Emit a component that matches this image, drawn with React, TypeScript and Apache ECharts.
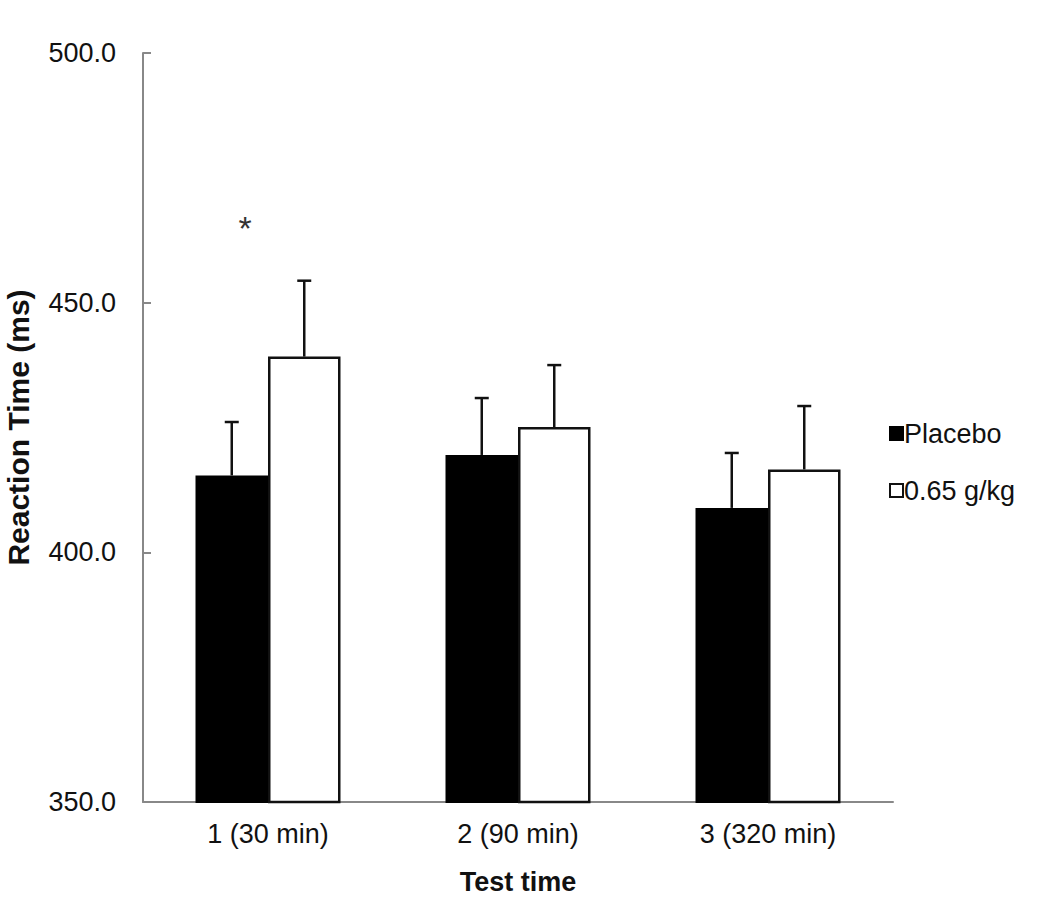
import React, { useEffect, useRef } from "react";
import * as echarts from "echarts";

const categories = ["1 (30 min)", "2 (90 min)", "3 (320 min)"];
const placeboMean = [415.4, 419.5, 408.9];
const placeboErr = [10.7, 11.4, 11.0];
const doseMean = [439.2, 425.1, 416.6];
const doseErr = [15.2, 12.4, 12.7];
const significance = ["*", "", ""];
const significanceLevel = [465.0, 0, 0];
const yTicks = { min: 350, max: 500, interval: 50 };

const FONT = "Liberation Sans, Arial, sans-serif";
const CAT_GAP = 0.42;

function errorSeries(name: string, means: number[], errs: number[], side: number) {
  return {
    type: "custom",
    name: name + " error",
    z: 5,
    silent: true,
    data: means.map((m, i) => [i, m, errs[i]]),
    encode: { x: 0, y: 1 },
    renderItem: (params: any, api: any) => {
      const idx = api.value(0);
      const mean = api.value(1);
      const err = api.value(2);
      const band = api.size([1, 0])[0];
      const barW = (band * (1 - CAT_GAP)) / 2;
      const base = api.coord([idx, mean]);
      const top = api.coord([idx, mean + err]);
      const x = base[0] + side * barW / 2;
      const cap = 7;
      const style = { stroke: "#111", lineWidth: 2.5 };
      return {
        type: "group",
        children: [
          { type: "line", shape: { x1: x, y1: base[1], x2: x, y2: top[1] }, style },
          { type: "line", shape: { x1: x - cap, y1: top[1], x2: x + cap, y2: top[1] }, style },
        ],
      };
    },
  };
}

export default function App() {
  const ref = useRef<HTMLDivElement>(null);
  useEffect(() => {
    if (!ref.current) return;
    const chart = echarts.init(ref.current, null, { renderer: "svg" });
    chart.setOption({
      animation: false,
      backgroundColor: "#ffffff",
      grid: { left: 143, right: 157, top: 53, bottom: 108, containLabel: false, outerBoundsMode: "none" },
      legend: {
        orient: "vertical",
        left: 884,
        top: 415,
        itemWidth: 13,
        itemHeight: 13,
        itemGap: 30,
        icon: "rect",
        data: ["Placebo", "0.65 g/kg"],
        textStyle: { fontFamily: FONT, fontSize: 27, color: "#111", padding: [0, 0, 0, -4] },
      },
      xAxis: {
        type: "category",
        data: categories,
        name: "Test time",
        nameLocation: "middle",
        nameGap: 66,
        nameTextStyle: { fontFamily: FONT, fontSize: 27, fontWeight: "bold", color: "#111" },
        axisLine: { lineStyle: { color: "#888", width: 2 } },
        axisTick: { show: false },
        axisLabel: { fontFamily: FONT, fontSize: 27, color: "#111", margin: 18 },
      },
      yAxis: {
        type: "value",
        min: yTicks.min,
        max: yTicks.max,
        interval: yTicks.interval,
        name: "Reaction Time (ms)",
        nameLocation: "middle",
        nameGap: 110,
        nameTextStyle: { fontFamily: FONT, fontSize: 30, fontWeight: "bold", color: "#111" },
        axisLine: { show: true, lineStyle: { color: "#888", width: 2 } },
        axisTick: { show: true, inside: true, length: 8, lineStyle: { color: "#888", width: 2 } },
        splitLine: { show: false },
        axisLabel: {
          fontFamily: FONT,
          fontSize: 27,
          color: "#111",
          margin: 27,
          formatter: (v: number) => v.toFixed(1),
        },
      },
      series: [
        {
          type: "bar",
          name: "Placebo",
          data: placeboMean,
          barGap: "0%",
          barCategoryGap: "42%",
          itemStyle: { color: "#000", borderColor: "#000", borderWidth: 2 },
        },
        {
          type: "bar",
          name: "0.65 g/kg",
          data: doseMean,
          barGap: "0%",
          barCategoryGap: "42%",
          itemStyle: { color: "#fff", borderColor: "#111", borderWidth: 2.5 },
        },
        errorSeries("Placebo", placeboMean, placeboErr, -1),
        errorSeries("0.65 g/kg", doseMean, doseErr, 1),
        {
          type: "custom",
          name: "significance",
          z: 6,
          silent: true,
          data: significance.map((s, i) => [i, significanceLevel[i], s]),
          encode: { x: 0, y: 1 },
          renderItem: (params: any, api: any) => {
            const label = significance[params.dataIndex];
            if (!label) return null;
            const p = api.coord([api.value(0), api.value(1)]);
            return {
              type: "text",
              x: p[0] - 23,
              y: p[1],
              style: {
                text: label,
                fontFamily: FONT,
                fontSize: 34,
                fill: "#333",
                align: "center",
                verticalAlign: "middle",
              },
            };
          },
        },
      ],
    });
    return () => chart.dispose();
  }, []);
  return (
    <div
      ref={ref}
      style={{ position: "absolute", left: 0, top: 0, width: 1050, height: 910 }}
    />
  );
}
